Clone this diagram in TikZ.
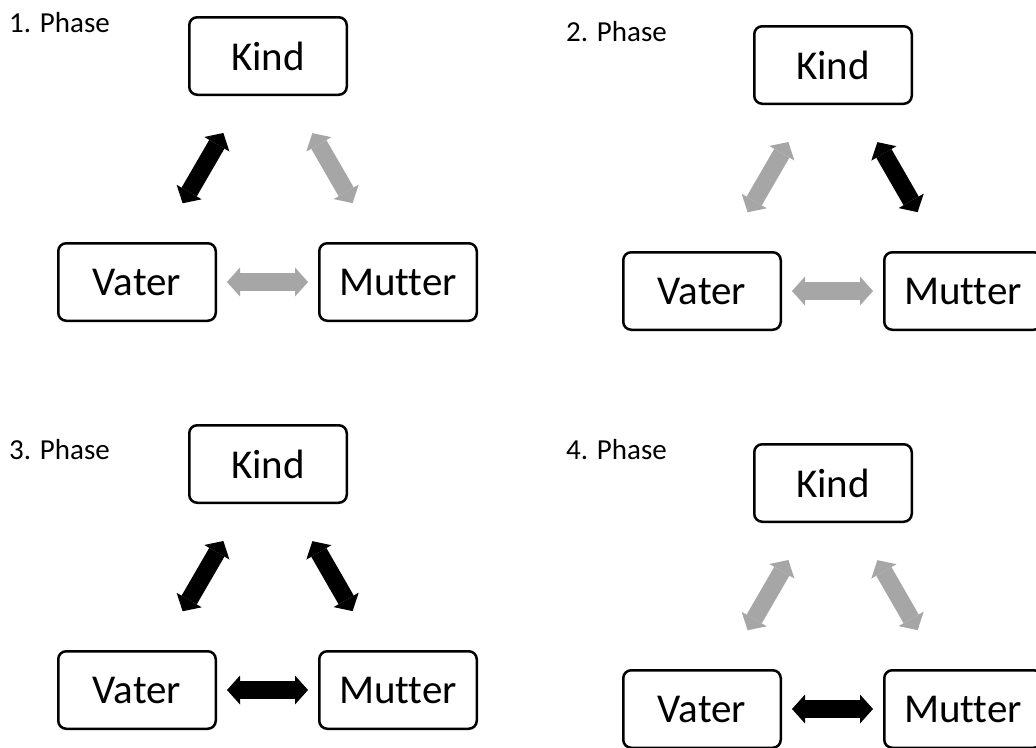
\documentclass[tikz,border=0pt]{standalone}
\usepackage{fontspec}
\setmainfont{Carlito}[Ligatures={NoCommon}]
\usetikzlibrary{arrows.meta,calc}
\definecolor{lg}{RGB}{166,166,166}
\tikzset{
 box/.style={draw=black, line width=2.5pt, rounded corners=8pt, minimum width=157.5pt, minimum height=77.5pt, inner sep=0pt, font=\fontsize{41}{49}\selectfont},
 lbl/.style={anchor=west, inner sep=0pt, font=\fontsize{29}{34}\selectfont},
 dbl/.style={line width=17.5pt, {Triangle[length=13pt,width=29pt,line width=0pt]}-{Triangle[length=13pt,width=29pt,line width=0pt]}},
 blk/.style={dbl, draw=black},
 gry/.style={dbl, draw=lg},
}
\newcommand\phasefig[6]{%
 \node[box] (#1k) at (#2,#3) {Kind};
 \node[box] (#1v) at ($(#1k)+(-131,226)$) {Vater};
 \node[box] (#1m) at ($(#1k)+(130,226)$) {Mutter};
 \draw[#4] ($(#1v)!91pt!(#1k)$) -- ($(#1k)!89pt!(#1v)$);
 \draw[#5] ($(#1k)!89pt!(#1m)$) -- ($(#1m)!91pt!(#1k)$);
 \draw[#6] ($(#1v.east)+(10,0)$) -- ($(#1m.west)+(-10,0)$);
}
\begin{document}
\begin{tikzpicture}[x=1pt,y=-1pt]
 \clip (0,0) rectangle (1036,747);
 \fill[white] (0,0) rectangle (1036,747);
 \node[lbl] (l1) at (9,23) {1. Phase};
 \node[lbl] (l2) at (566,32) {2. Phase};
 \node[lbl] (l3) at (9,450) {3. Phase};
 \node[lbl] (l4) at (566,450) {4. Phase};
 \phasefig{a}{268}{56}{blk}{gry}{gry}
 \phasefig{b}{833}{65}{gry}{blk}{gry}
 \phasefig{c}{268}{464}{blk}{blk}{blk}
 \phasefig{d}{833}{483}{gry}{gry}{blk}
\end{tikzpicture}
\end{document}
